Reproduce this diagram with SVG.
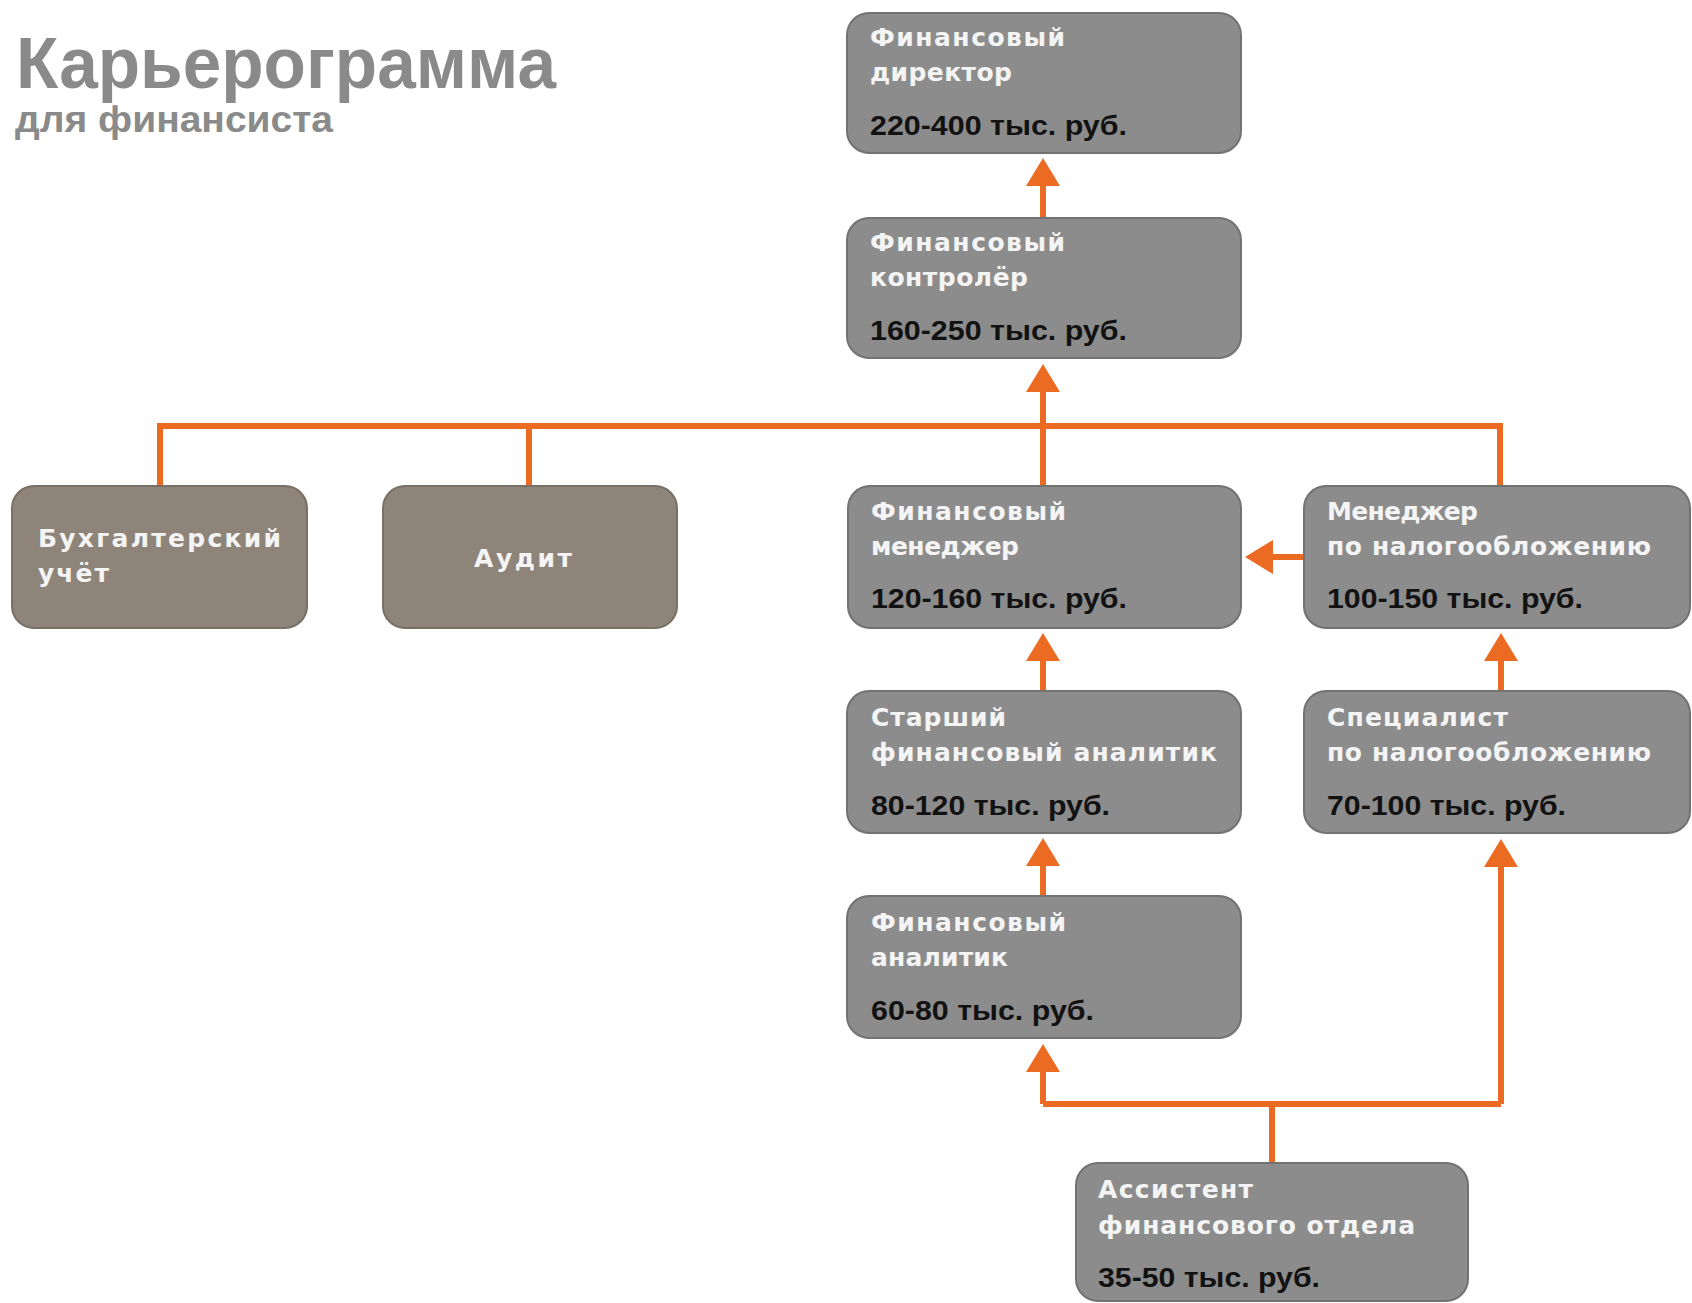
<svg xmlns="http://www.w3.org/2000/svg" width="1692" height="1303" viewBox="0 0 1692 1303">
<defs>
<style>
.box{fill:#8c8c8c;stroke:#727272;stroke-width:2}
.bbox{fill:#8e8479;stroke:#797065;stroke-width:2}
.t{font-family:"DejaVu Sans",Verdana,sans-serif;font-weight:bold;font-size:25px;fill:#f4f4f4}
.s{font-family:"Liberation Sans",Arial,sans-serif;font-weight:bold;font-size:27px;fill:#121212}
.ttl{font-family:"Liberation Sans",Arial,sans-serif;font-weight:bold;fill:#8a8a8a}
.c{fill:none;stroke:#ec6b23;stroke-width:6}
</style>
<marker id="ah" markerUnits="userSpaceOnUse" markerWidth="30" markerHeight="36" viewBox="0 -18 30 36" refX="0" refY="0" orient="auto">
<path d="M0,-17 L28,0 L0,17 z" fill="#ec6b23"/>
</marker>
</defs>
<rect width="1692" height="1303" fill="#ffffff"/>
<g id="title">
<text class="ttl" x="16" y="88" font-size="72" textLength="540" lengthAdjust="spacingAndGlyphs">Карьерограмма</text>
<text class="ttl" x="15" y="132" font-size="36" textLength="318" lengthAdjust="spacingAndGlyphs">для финансиста</text>
</g>
<g id="connectors">
<path class="c" d="M1043,218 V186" marker-end="url(#ah)"/>
<path class="c" d="M160,486 V426 H1500 V486"/>
<path class="c" d="M529,426 V486"/>
<path class="c" d="M1043,486 V392" marker-end="url(#ah)"/>
<path class="c" d="M1304,557 H1273" marker-end="url(#ah)"/>
<path class="c" d="M1043,691 V661" marker-end="url(#ah)"/>
<path class="c" d="M1501,691 V661" marker-end="url(#ah)"/>
<path class="c" d="M1043,896 V866" marker-end="url(#ah)"/>
<path class="c" d="M1272,1163 V1104"/>
<path class="c" d="M1043,1104 H1501"/>
<path class="c" d="M1043,1104 V1072" marker-end="url(#ah)"/>
<path class="c" d="M1501,1104 V867" marker-end="url(#ah)"/>
</g>
<g id="n-director">
<rect class="box" x="847" y="13" width="394" height="140" rx="22"/>
<text class="t" x="870" y="46" textLength="195">Финансовый</text>
<text class="t" x="870" y="81" textLength="142">директор</text>
<text class="s" x="870" y="135" textLength="257" lengthAdjust="spacingAndGlyphs">220-400 тыс. руб.</text>
</g>
<g id="n-controller">
<rect class="box" x="847" y="218" width="394" height="140" rx="22"/>
<text class="t" x="870" y="251" textLength="195">Финансовый</text>
<text class="t" x="870" y="286" textLength="158">контролёр</text>
<text class="s" x="870" y="340" textLength="257" lengthAdjust="spacingAndGlyphs">160-250 тыс. руб.</text>
</g>
<g id="n-bookkeeping">
<rect class="bbox" x="12" y="486" width="295" height="142" rx="22"/>
<text class="t" x="38" y="547" textLength="243">Бухгалтерский</text>
<text class="t" x="38" y="582" textLength="71">учёт</text>
</g>
<g id="n-audit">
<rect class="bbox" x="383" y="486" width="294" height="142" rx="22"/>
<text class="t" x="474" y="567" textLength="98">Аудит</text>
</g>
<g id="n-finmanager">
<rect class="box" x="848" y="486" width="393" height="142" rx="22"/>
<text class="t" x="871" y="520" textLength="195">Финансовый</text>
<text class="t" x="871" y="555" textLength="148">менеджер</text>
<text class="s" x="871" y="608" textLength="256" lengthAdjust="spacingAndGlyphs">120-160 тыс. руб.</text>
</g>
<g id="n-taxmanager">
<rect class="box" x="1304" y="486" width="386" height="142" rx="22"/>
<text class="t" x="1327" y="520" textLength="151">Менеджер</text>
<text class="t" x="1327" y="555" textLength="324">по налогообложению</text>
<text class="s" x="1327" y="608" textLength="256" lengthAdjust="spacingAndGlyphs">100-150 тыс. руб.</text>
</g>
<g id="n-senior">
<rect class="box" x="847" y="691" width="394" height="142" rx="22"/>
<text class="t" x="871" y="726" textLength="135">Старший</text>
<text class="t" x="871" y="761" textLength="346">финансовый аналитик</text>
<text class="s" x="871" y="815" textLength="239" lengthAdjust="spacingAndGlyphs">80-120 тыс. руб.</text>
</g>
<g id="n-specialist">
<rect class="box" x="1304" y="691" width="386" height="142" rx="22"/>
<text class="t" x="1327" y="726" textLength="181">Специалист</text>
<text class="t" x="1327" y="761" textLength="324">по налогообложению</text>
<text class="s" x="1327" y="815" textLength="239" lengthAdjust="spacingAndGlyphs">70-100 тыс. руб.</text>
</g>
<g id="n-analyst">
<rect class="box" x="847" y="896" width="394" height="142" rx="22"/>
<text class="t" x="871" y="931" textLength="195">Финансовый</text>
<text class="t" x="871" y="966" textLength="137">аналитик</text>
<text class="s" x="871" y="1020" textLength="223" lengthAdjust="spacingAndGlyphs">60-80 тыс. руб.</text>
</g>
<g id="n-assistant">
<rect class="box" x="1076" y="1163" width="392" height="138" rx="22"/>
<text class="t" x="1098" y="1198" textLength="155">Ассистент</text>
<text class="t" x="1098" y="1234" textLength="317">финансового отдела</text>
<text class="s" x="1098" y="1287" textLength="222" lengthAdjust="spacingAndGlyphs">35-50 тыс. руб.</text>
</g>
</svg>
